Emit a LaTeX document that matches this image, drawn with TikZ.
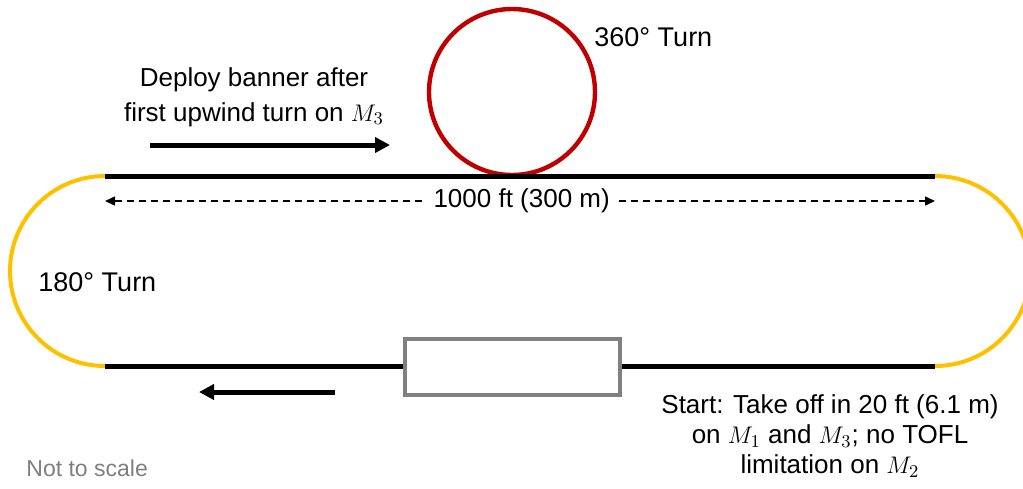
\documentclass[tikz,border=0pt]{standalone}
\usepackage{fontspec}
\setmainfont{Liberation Sans}
\usepackage{xcolor}
\usetikzlibrary{positioning,arrows.meta,calc}
\definecolor{turnred}{HTML}{C00000}
\definecolor{turnyellow}{HTML}{FFC000}
\definecolor{boxgrey}{HTML}{808080}
\definecolor{notegrey}{HTML}{7F7F7F}

\begin{document}
\begin{tikzpicture}[
  x=0.5pt, y=-0.5pt,
  font=\fontsize{13}{15}\selectfont,
  leg/.style={line width=2.5pt, draw=black},
  turn/.style={line width=2pt, draw=turnyellow},
  spin/.style={circle, draw=turnred, line width=2.2pt, minimum size=83pt, inner sep=0pt},
  banner/.style={draw=boxgrey, fill=white, line width=1.9pt, minimum width=107.5pt, minimum height=28pt, inner sep=0pt},
  arr/.style={-{Triangle[length=7.5pt, width=7.5pt]}, line width=2.5pt},
  dim/.style={{Triangle[length=5pt, width=4.5pt]}-{Triangle[length=5pt, width=4.5pt]}, line width=0.75pt, dash pattern=on 3.5pt off 2.5pt},
  lbl/.style={inner sep=0pt, align=center},
  dimlbl/.style={fill=white, inner xsep=4pt, inner ysep=1pt}
]
\clip (0,0) rectangle (1023,488);

% track corners
\coordinate (tl) at (105,176);
\coordinate (tr) at (935,176);
\coordinate (bl) at (105,366);
\coordinate (br) at (935,366);

\node[spin] (loop360) at (512,92) {};

\draw[turn] (tl) arc[start angle=-90, end angle=-270, radius=95];
\draw[turn] (tr) arc[start angle=-90, end angle=90, radius=95];
\draw[leg] (tl) -- (tr);
\draw[leg] (bl) -- (br);

\node[banner] (bannerbox) at (512.5,367) {};

% direction arrows
\coordinate (upfrom) at (150,145);
\coordinate (upto) at (390,145);
\coordinate (dnfrom) at (335,392);
\coordinate (dnto) at (199,392);
\draw[arr] (upfrom) -- (upto);
\draw[arr] (dnfrom) -- (dnto);

% span
\coordinate (dl) at (105,201);
\coordinate (dr) at (935,201);
\draw[dim] (dl) -- node[dimlbl, pos=0.502] (span) {1000 ft (300 m)} (dr);

\node[lbl, anchor=west, font=\fontsize{13.5}{15}\selectfont] (lbl360) at (594,37) {360° Turn};
\node[lbl, anchor=west, font=\fontsize{13.5}{15}\selectfont] (lbl180) at (38,282) {180° Turn};
\node[lbl, font=\fontsize{13}{17.5}\selectfont] (deploy) at (254,97)
  {Deploy banner after\\first upwind turn on \(M_3\)};
\node[lbl] (start) at (830,436)
  {Start: Take off in 20 ft (6.1 m)\\on \(M_1\) and \(M_3\); no TOFL\\limitation on \(M_2\)};
\node[lbl, anchor=west, text=notegrey, font=\fontsize{11.5}{14}\selectfont] (note) at (26,468) {Not to scale};
\end{tikzpicture}
\end{document}
